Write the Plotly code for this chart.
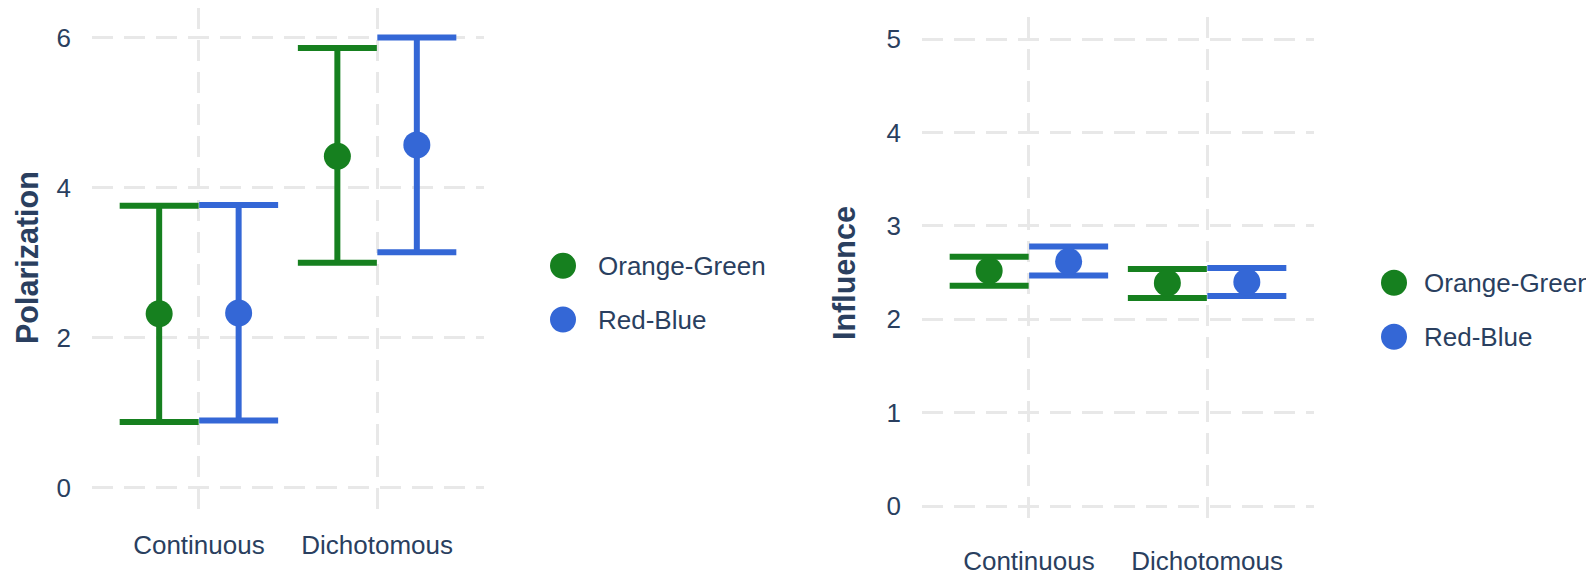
import plotly.graph_objects as go

# ── data ─────────────────────────────────────────────────────────────────────
categories = ["Continuous", "Dichotomous"]
series = ["Orange-Green", "Red-Blue"]
colors = {"Orange-Green": "#16801f", "Red-Blue": "#3467d6"}

# Polarization: mean with lower / upper interval bounds
pol_mean = {"Orange-Green": [2.32, 4.42], "Red-Blue": [2.33, 4.57]}
pol_low = {"Orange-Green": [0.88, 3.00], "Red-Blue": [0.90, 3.14]}
pol_high = {"Orange-Green": [3.76, 5.86], "Red-Blue": [3.77, 6.00]}

# Influence
inf_mean = {"Orange-Green": [2.52, 2.39], "Red-Blue": [2.62, 2.40]}
inf_low = {"Orange-Green": [2.36, 2.23], "Red-Blue": [2.47, 2.25]}
inf_high = {"Orange-Green": [2.67, 2.54], "Red-Blue": [2.78, 2.55]}

pol_ticks = [0, 2, 4, 6]
inf_ticks = [0, 1, 2, 3, 4, 5]

W, H = 1594, 574
OFF = 8  # the page body adds an 8px margin, so pull everything up/left
FONT = "Arial, Liberation Sans, sans-serif"
TXT = "#2a3f5f"
GRID = "#e8e8e8"


def px_x(v):
    return (v - OFF) / W


def px_y(v):
    return 1 - (v - OFF) / H


fig = go.Figure()


def add_panel(means, lows, highs, xa, ya):
    for s in series:
        up = [h - m for h, m in zip(highs[s], means[s])]
        down = [m - l for m, l in zip(means[s], lows[s])]
        fig.add_trace(go.Scatter(
            x=categories, y=means[s], name=s, mode="markers",
            xaxis=xa, yaxis=ya, offsetgroup=s, showlegend=False,
            marker=dict(color=colors[s], size=27),
            error_y=dict(type="data", array=up, arrayminus=down,
                         color=colors[s], thickness=6, width=39.5),
        ))


add_panel(pol_mean, pol_low, pol_high, "x", "y")
add_panel(inf_mean, inf_low, inf_high, "x2", "y2")

axis_common = dict(
    showgrid=True, gridcolor=GRID, gridwidth=3, griddash="21px,11px",
    zeroline=False, showline=False, ticks="",
    tickfont=dict(family=FONT, size=26, color=TXT),
)

fig.update_layout(
    width=W, height=H,
    margin=dict(l=0, r=0, t=0, b=0),
    paper_bgcolor="white", plot_bgcolor="white",
    scattermode="group", scattergap=0.108,
    showlegend=False,
    xaxis=dict(domain=[px_x(92), px_x(484)], anchor="y", type="category",
               range=[-0.6, 1.6], ticklabelstandoff=16, **axis_common),
    yaxis=dict(domain=[px_y(510.5), 1.0], anchor="x", range=[-0.3, 6.394],
               tickvals=pol_ticks, ticklabelstandoff=20, **axis_common),
    xaxis2=dict(domain=[px_x(922), px_x(1314)], anchor="y2", type="category",
                range=[-0.6, 1.6], ticklabelstandoff=14, **axis_common),
    yaxis2=dict(domain=[px_y(528.7), px_y(16.6)], anchor="x2",
                range=[-0.24, 5.24], tickvals=inf_ticks,
                ticklabelstandoff=20, **axis_common),
)

# axis titles
fig.add_annotation(text="<b>Polarization</b>", textangle=-90, xref="paper", yref="paper",
                   x=0, y=px_y(258), xanchor="left", yanchor="middle",
                   showarrow=False, font=dict(family=FONT, size=30.5, color=TXT))
fig.add_annotation(text="<b>Influence</b>", textangle=-90, xref="paper", yref="paper",
                   x=px_x(844), y=px_y(273), xanchor="center", yanchor="middle",
                   showarrow=False, font=dict(family=FONT, size=30.5, color=TXT))

# legends drawn by hand so the swatches match the large markers
legend_spots = [(563, [265.7, 319.5], 596), (1394, [282.7, 336.7], 1422)]
for cx, rows, tx in legend_spots:
    for s, cy in zip(series, rows):
        fig.add_shape(type="circle", xref="paper", yref="paper",
                      xsizemode="pixel", ysizemode="pixel",
                      xanchor=px_x(cx), yanchor=px_y(cy),
                      x0=-13, x1=13, y0=-13, y1=13,
                      fillcolor=colors[s], line=dict(width=0))
        fig.add_annotation(text=s, xref="paper", yref="paper",
                           x=px_x(tx), y=px_y(cy), xanchor="left", yanchor="middle",
                           showarrow=False,
                           font=dict(family=FONT, size=26, color=TXT))

fig.write_html("out.html")
